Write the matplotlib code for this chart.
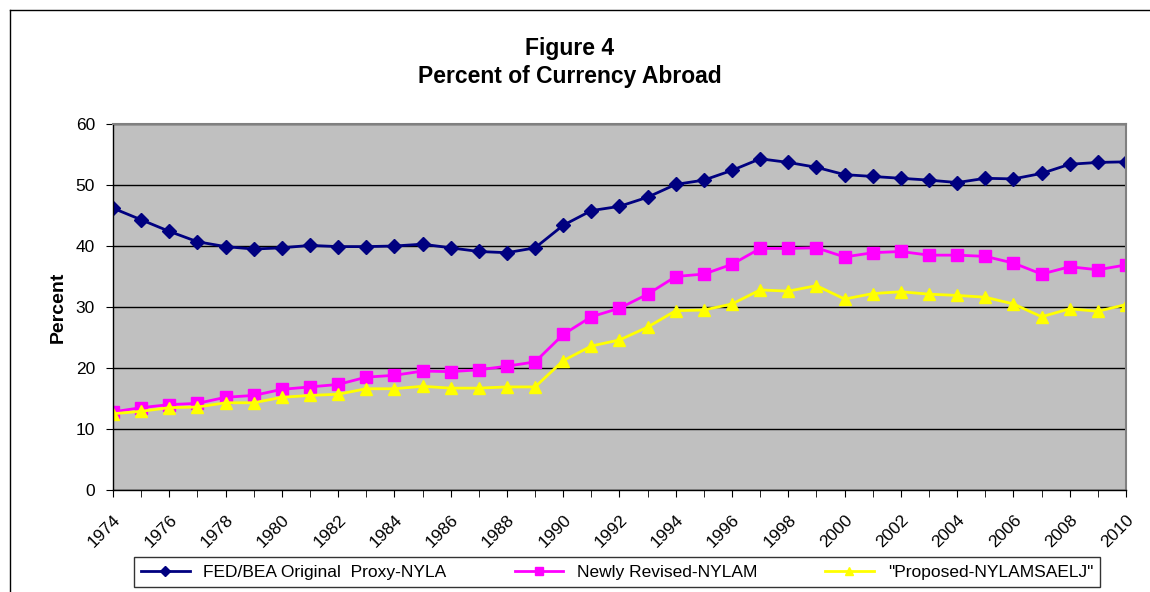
import numpy as np
import matplotlib.pyplot as plt
from matplotlib.lines import Line2D

plt.rcParams['font.family'] = ['Liberation Sans', 'DejaVu Sans']

years = list(range(1974, 2011))

# FED/BEA Original Proxy-NYLA
nyla = [46.2, 44.3, 42.4, 40.7, 39.9, 39.5, 39.7, 40.1, 39.9, 39.9, 40.0, 40.3, 39.7,
        39.1, 38.9, 39.7, 43.4, 45.8, 46.5, 48.0, 50.1, 50.8, 52.4, 54.3, 53.7,
        52.9, 51.7, 51.4, 51.1, 50.8, 50.4, 51.1, 51.0, 51.9, 53.4, 53.7, 53.8]
# Newly Revised-NYLAM
nylam = [12.8, 13.5, 14.0, 14.2, 15.2, 15.5, 16.5, 16.9, 17.3, 18.5, 18.8, 19.5, 19.4,
         19.7, 20.3, 21.0, 25.5, 28.4, 29.8, 32.1, 35.0, 35.4, 37.0, 39.6, 39.6,
         39.7, 38.2, 38.9, 39.1, 38.5, 38.5, 38.3, 37.2, 35.4, 36.6, 36.1, 36.9]
# "Proposed-NYLAMSAELJ"
saelj = [12.5, 12.9, 13.5, 13.6, 14.3, 14.3, 15.2, 15.5, 15.7, 16.6, 16.6, 17.0, 16.7,
         16.7, 16.9, 16.9, 21.2, 23.6, 24.6, 26.7, 29.4, 29.5, 30.5, 32.8, 32.6,
         33.5, 31.3, 32.2, 32.5, 32.1, 31.9, 31.6, 30.5, 28.4, 29.7, 29.3, 30.4]

labels = ['FED/BEA Original  Proxy-NYLA', 'Newly Revised-NYLAM', '"Proposed-NYLAMSAELJ"']

fig = plt.figure(figsize=(11.5, 5.92), dpi=100)
ax = fig.add_axes([113/1150, 1 - 490/592, (1126 - 113)/1150, (490 - 124)/592])
ax.set_facecolor('#C0C0C0')

ax.plot(years, nyla, color='#000080', marker='D', markersize=7, linewidth=2, label=labels[0])
ax.plot(years, nylam, color='#FF00FF', marker='s', markersize=8.5, linewidth=2, label=labels[1])
ax.plot(years, saelj, color='#FFFF00', marker='^', markersize=9, linewidth=2, label=labels[2])

ax.set_xlim(1974, 2010)
ax.set_ylim(0, 60)
ax.set_yticks(range(0, 61, 10))
ax.set_xticks(years, minor=True)
ax.set_xticks(range(1974, 2011, 2))
ax.set_xticklabels([str(y) for y in range(1974, 2011, 2)], rotation=45, ha='right',
                   rotation_mode='anchor', fontsize=12.5)
ax.tick_params(axis='y', labelsize=12.5, direction='out', length=5, color='black', pad=8)
ax.tick_params(axis='x', which='both', direction='out', length=5, color='black', pad=11)
ax.grid(axis='y', color='black', linewidth=1)
ax.set_axisbelow(True)

for s in ['top', 'right']:
    ax.spines[s].set_color('#808080')
    ax.spines[s].set_linewidth(1.5)
for s in ['left', 'bottom']:
    ax.spines[s].set_color('black')
    ax.spines[s].set_linewidth(1)

ax.set_ylabel('Percent', fontsize=14, fontweight='bold', labelpad=6)

fig.text(570/1150, 1 - 48/592, 'Figure 4', ha='center', va='center', fontsize=16.5, fontweight='bold')
fig.text(570/1150, 1 - 77/592, 'Percent of Currency Abroad', ha='center', va='center',
         fontsize=16.5, fontweight='bold')

leg = fig.legend(loc='center', bbox_to_anchor=(134/1150, 1 - 590/592, 966/1150, 36/592),
                 mode='expand', ncol=3, fontsize=12.5, frameon=True, fancybox=False,
                 handlelength=2.8, borderpad=0.4, markerscale=0.7, borderaxespad=0)
leg.get_frame().set_edgecolor('black')
leg.get_frame().set_linewidth(1)

# outer chart border
fig.add_artist(Line2D([10/1150, 1], [1 - 10/592, 1 - 10/592], color='black', linewidth=1))
fig.add_artist(Line2D([10/1150, 10/1150], [0, 1 - 10/592], color='black', linewidth=1))

fig.savefig('out.png', dpi=100)
